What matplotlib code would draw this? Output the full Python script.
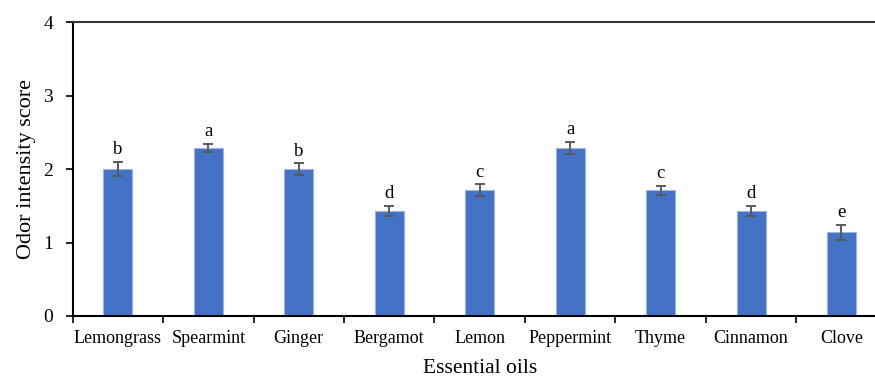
import numpy as np
import matplotlib
matplotlib.use('Agg')
import matplotlib.pyplot as plt

oils = ['Lemongrass', 'Spearmint', 'Ginger', 'Bergamot', 'Lemon',
        'Peppermint', 'Thyme', 'Cinnamon', 'Clove']
scores = [2.00, 2.29, 2.00, 1.43, 1.71, 2.29, 1.71, 1.43, 1.14]
errors = [0.10, 0.055, 0.075, 0.07, 0.08, 0.08, 0.065, 0.07, 0.10]
groups = ['b', 'a', 'b', 'd', 'c', 'a', 'c', 'd', 'e']

plt.rcParams['font.family'] = ['Liberation Serif', 'DejaVu Serif']

fig = plt.figure(figsize=(8.75, 3.81), dpi=100)
ax = fig.add_axes([72.7 / 875, 1 - 316 / 381, 814 / 875, 294 / 381])

x = np.arange(len(oils))
ax.bar(x, scores, width=0.32, color='#4472C4', edgecolor='#9db4e0',
       linewidth=0.8, zorder=2)
ax.errorbar(x, scores, yerr=errors, fmt='none', ecolor='#595959',
            elinewidth=1.4, capsize=3.4, capthick=1.4, zorder=3)
for xi, s, e, g in zip(x, scores, errors, groups):
    ax.text(xi, s + e + 0.05, g, ha='center', va='bottom', fontsize=13.5)

ax.set_xlim(-0.5, len(oils) - 0.5)
ax.set_ylim(0, 4)
ax.set_yticks([0, 1, 2, 3, 4])
ax.set_xticks(x)
ax.set_xticklabels(oils, fontsize=13)
ax.set_xticks(np.arange(len(oils) + 1) - 0.5, minor=True)
ax.tick_params(axis='x', which='major', length=0, pad=10)
ax.tick_params(axis='x', which='minor', length=5, width=1.2)
ax.tick_params(axis='y', length=5, width=1.2, labelsize=14, pad=9)

for side in ['left', 'bottom', 'top']:
    ax.spines[side].set_linewidth(1.5)
    ax.spines[side].set_color('black')
ax.spines['top'].set_color('#333333')
ax.spines['right'].set_visible(False)

ax.set_ylabel('Odor intensity score', fontsize=16, labelpad=5)
ax.set_xlabel('Essential oils', fontsize=15.5, labelpad=9)

fig.savefig('out.png', dpi=100)
